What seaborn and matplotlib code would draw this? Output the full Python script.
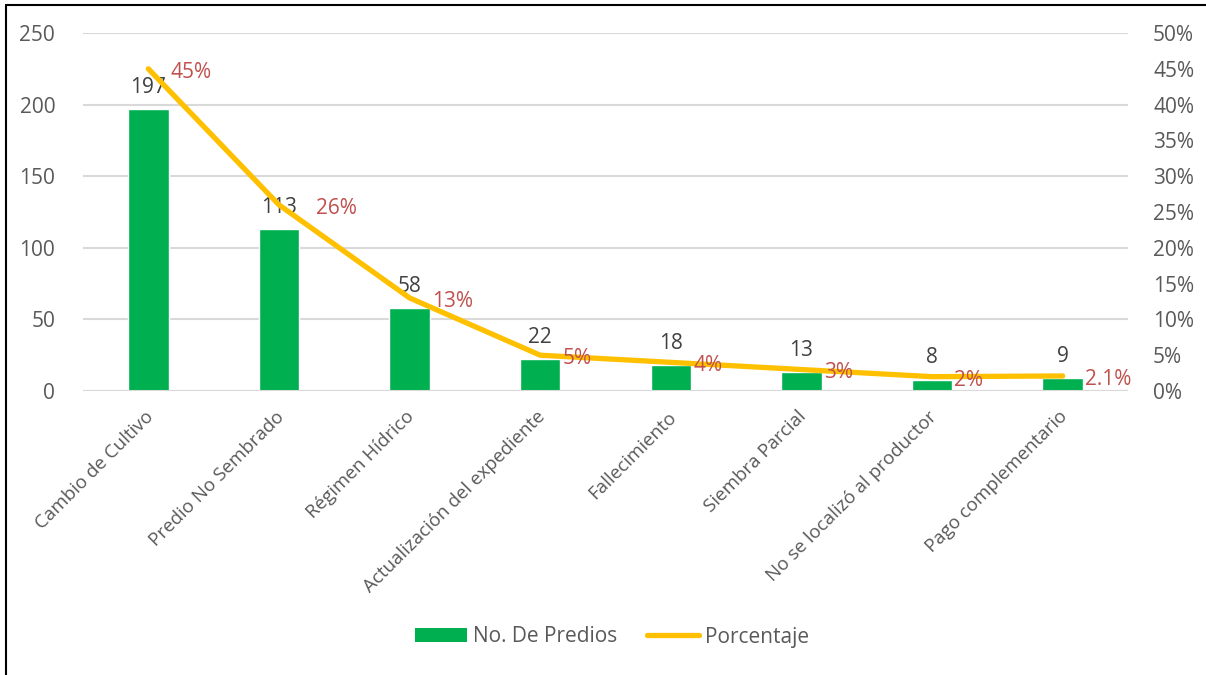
import numpy as np
import pandas as pd
import matplotlib
matplotlib.use("Agg")
import matplotlib.pyplot as plt
import matplotlib.transforms as mtransforms
import seaborn as sns
from matplotlib.patches import Patch
from matplotlib.lines import Line2D

categories = ["Cambio de Cultivo", "Predio No Sembrado", "Régimen Hídrico",
              "Actualización del expediente", "Fallecimiento", "Siembra Parcial",
              "No se localizó al productor", "Pago complementario"]
predios = [197, 113, 58, 22, 18, 13, 8, 9]
porcentaje = [45, 26, 13, 5, 4, 3, 2, 2.1]
pct_labels = ["45%", "26%", "13%", "5%", "4%", "3%", "2%", "2.1%"]

sns.set_theme(style="white")
plt.rcParams['font.family'] = ['Open Sans', 'DejaVu Sans']

GREEN = "#00B050"
YELLOW = "#FFC000"
TICK = "#595959"
RED = "#C0504D"

df = pd.DataFrame({"cat": categories, "n": predios, "pct": porcentaje})

fig = plt.figure(figsize=(12.06, 6.75), dpi=100)
ax = fig.add_axes([83/1206, 1-391/675, 1045/1206, 358/675])

sns.barplot(data=df, x="cat", y="n", color=GREEN, width=0.31, ax=ax,
            saturation=1, order=categories)
ax.set_ylim(0, 250)
ax.set_xlim(-0.5, len(categories)-0.5)
ax.set_yticks(range(0, 251, 50))
ax.yaxis.grid(True, color="#D9D9D9", linewidth=1.5)
ax.set_axisbelow(True)
for s in ["top", "right", "left", "bottom"]:
    ax.spines[s].set_visible(False)
ax.axhline(0, color="#D9D9D9", linewidth=1.5, zorder=1)
ax.set_xlabel("")
ax.set_ylabel("")
ax.tick_params(axis="y", labelsize=15, colors=TICK, length=0, pad=20)
ax.tick_params(axis="x", labelsize=13.5, colors=TICK, length=0, pad=12)
ax.set_xticks(range(len(categories)))
ax.set_xticklabels(categories, rotation=45, ha="right", rotation_mode="anchor")
shift = mtransforms.ScaledTranslation(-4/100, 0, fig.dpi_scale_trans)
for lbl in ax.get_xticklabels():
    lbl.set_transform(lbl.get_transform() + shift)

for i, v in enumerate(predios):
    ax.annotate(str(v), (i, v), xytext=(0, 8), textcoords="offset points",
                ha="center", va="bottom", fontsize=15, color="#404040")

ax2 = ax.twinx()
sns.lineplot(x=np.arange(len(categories)), y=np.array(porcentaje)/100, ax=ax2,
             color=YELLOW, linewidth=3.8, solid_capstyle="round")
ax2.set_ylim(0, 0.5)
ax2.set_yticks(np.arange(0, 0.501, 0.05))
ax2.set_yticklabels([f"{int(round(t*100))}%" for t in np.arange(0, 0.501, 0.05)])
ax2.tick_params(axis="y", labelsize=15, colors=TICK, length=0, pad=18)
for s in ["top", "right", "left", "bottom"]:
    ax2.spines[s].set_visible(False)
ax2.set_ylabel("")
ax2.grid(False)

offsets = [16, 27, 16, 16, 16, 16, 16, 16]
for i, (p, lab) in enumerate(zip(porcentaje, pct_labels)):
    ax2.annotate(lab, (i, p/100), xytext=(offsets[i], -2.5), textcoords="offset points",
                 ha="left", va="center", fontsize=15, color=RED)

handles = [Patch(facecolor=GREEN, edgecolor="none"),
           Line2D([0], [0], color=YELLOW, linewidth=3.8, solid_capstyle="round")]
fig.legend(handles, ["No. De Predios", "Porcentaje"], loc="center",
           bbox_to_anchor=(612/1206, 1-637/675), ncol=2, frameon=False,
           fontsize=15, labelcolor=TICK, handlelength=2.5, handleheight=0.65,
           handletextpad=0.3, columnspacing=1.4)

# outer frame (top and left)
fig.add_artist(Line2D([6/1206, 1], [1-5/675, 1-5/675], color="black", linewidth=1.5,
                      transform=fig.transFigure))
fig.add_artist(Line2D([6/1206, 6/1206], [0, 1-5/675], color="black", linewidth=1.5,
                      transform=fig.transFigure))

fig.savefig("out.png", dpi=100)
